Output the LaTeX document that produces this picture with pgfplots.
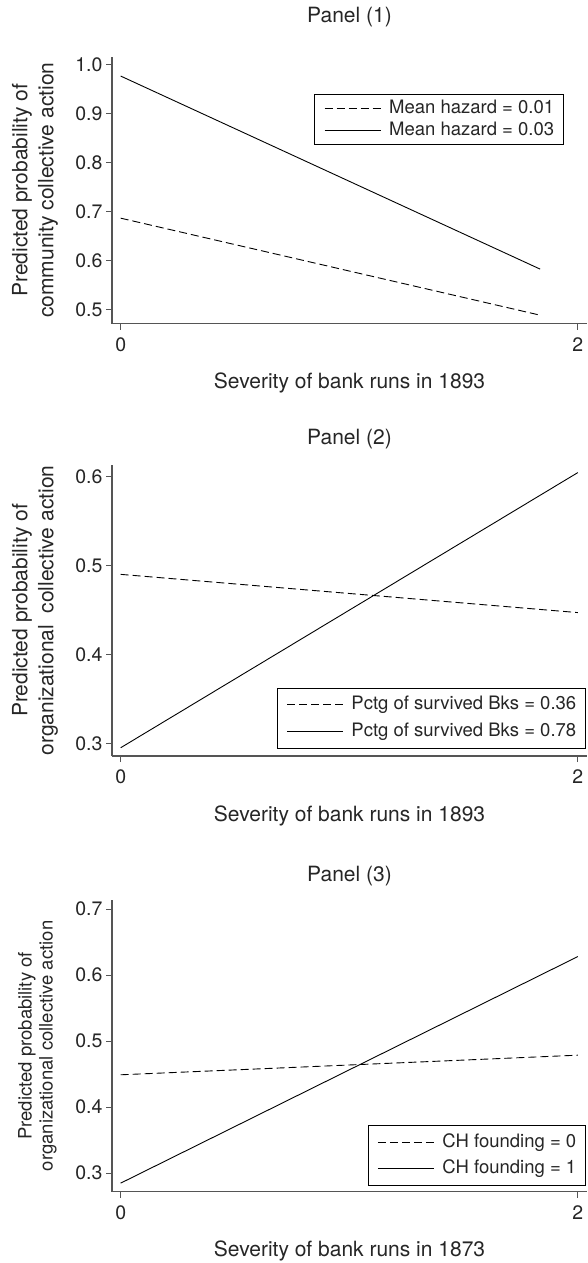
\documentclass[border=0pt]{standalone}
\usepackage{fontspec}
\setmainfont{TeX Gyre Heros}
\usepackage{pgfplots}
\pgfplotsset{compat=1.18}
\definecolor{txt}{HTML}{262626}
\definecolor{axc}{HTML}{555555}
\newcommand{\fs}{\fontsize{21}{26}\selectfont}
\newcommand{\fl}{\fontsize{18.5}{22}\selectfont}
\pgfplotsset{
  myax/.style={
    scale only axis,
    width=475pt,
    axis x line*=bottom, axis y line*=left,
    x axis line style={-, draw=axc, line width=1.1pt},
    y axis line style={-, draw=axc, line width=1.1pt},
    every tick/.style={draw=axc, line width=0.8pt},
    tick align=outside, major tick length=6pt,
    xmin=-0.038, xmax=2.04,
    xtick={0,2},
    /pgf/number format/assume math mode=true,
    tick label style={font=\fontsize{19.5}{23}\selectfont, text=txt},
    yticklabel style={/pgf/number format/.cd, fixed, fixed zerofill, precision=1},
    xticklabel style={yshift=-4pt},
    xlabel={Severity of bank runs in 1893},
    xlabel style={at={(axis description cs:0.5,0)}, anchor=center, yshift=-59.5pt, font=\fs, text=txt},
    title style={at={(axis description cs:0.5,1)}, anchor=center, font=\fs, text=txt},
    ylabel style={rotate=0, anchor=center, font=\fs, text=txt, align=center},
    legend cell align=left,
    legend style={draw=black, line width=0.6pt, font=\fl, text=txt,
      inner xsep=9.5pt, inner ysep=7.75pt, row sep=8.5pt,
      nodes={inner sep=0pt, text height=14pt, text depth=4pt},
      /tikz/every odd column/.append style={column sep=8pt}},
    legend image code/.code={\draw[##1] (0pt,0pt) -- (56pt,0pt);},
  },
  dsh/.style={black, line width=0.9pt, dash pattern=on 8pt off 4pt},
  sld/.style={black, line width=0.9pt},
}
\begin{document}
\begin{tikzpicture}[x=1pt,y=1pt]
\useasboundingbox (0,0) rectangle (587,-1263);
% Panel 1
\begin{axis}[myax, at={(112pt,-323.7pt)}, anchor=south west, height=267pt,
  ymin=0.4706, ymax=1.0155, ytick={0.5,0.6,0.7,0.8,0.9,1.0},
  title={Panel (1)}, title style={yshift=33.7pt},
  ylabel={Predicted probability of\\community collective action},
  ylabel style={at={(axis description cs:-0.162,0.5)}},
  legend style={at={(0.9516,0.860)}, anchor=north east, inner ysep=5pt, row sep=4.4pt}]
\addplot[dsh] coordinates {(0,0.686) (1.835,0.488)};
\addlegendentry{Mean hazard = 0.01}
\addplot[sld] coordinates {(0,0.976) (1.835,0.582)};
\addlegendentry{Mean hazard = 0.03}
\end{axis}
% Panel 2
\begin{axis}[myax, at={(112pt,-756pt)}, anchor=south west, height=291pt,
  ymin=0.2857, ymax=0.613, ytick={0.3,0.4,0.5,0.6},
  title={Panel (2)}, title style={yshift=20pt},
  ylabel={Predicted probability of\\organizational\ \ collective action},
  ylabel style={at={(axis description cs:-0.162,0.5)}},
  legend style={at={(0.998,0.026)}, anchor=south east}]
\addplot[dsh] coordinates {(0,0.490) (2,0.447)};
\addlegendentry{Pctg of survived Bks = 0.36}
\addplot[sld] coordinates {(0,0.295) (2,0.6045)};
\addlegendentry{Pctg of survived Bks = 0.78}
\end{axis}
% Panel 3
\begin{axis}[myax, at={(112pt,-1191.7pt)}, anchor=south west, height=291.7pt,
  ymin=0.272, ymax=0.7136, ytick={0.3,0.4,0.5,0.6,0.7},
  title={Panel (3)}, title style={yshift=18.3pt},
  xlabel={Severity of bank runs in 1873},
  ylabel={Predicted probability of\\organizational collective action},
  ylabel style={at={(axis description cs:-0.157,0.5)}, font=\fontsize{18.5}{21}\selectfont},
  legend style={at={(0.998,0.0206)}, anchor=south east}]
\addplot[dsh] coordinates {(0,0.449) (2,0.4787)};
\addlegendentry{CH founding = 0}
\addplot[sld] coordinates {(0,0.285) (2,0.628)};
\addlegendentry{CH founding = 1}
\end{axis}
\end{tikzpicture}
\end{document}
